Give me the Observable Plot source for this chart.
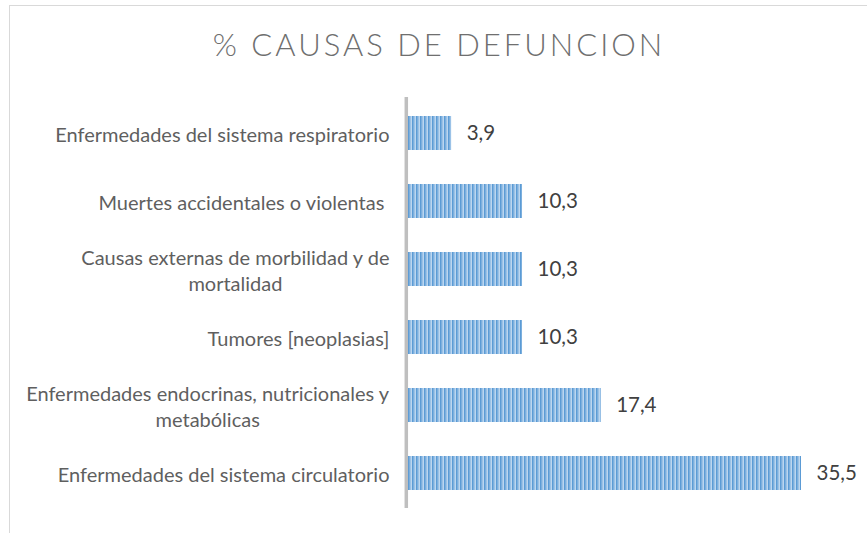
<!DOCTYPE html>
<html>
<head>
<meta charset="utf-8">
<script src="https://cdn.jsdelivr.net/npm/d3@7"></script>
<script src="https://cdn.jsdelivr.net/npm/@observablehq/plot@0.6"></script>
<style>
  html, body { margin: 0; padding: 0; background: #fff; }
  #wrap { position: relative; width: 867px; height: 533px; overflow: hidden; }
  #frame { position: absolute; left: 9px; top: 5px; width: 900px; height: 600px;
           border-top: 1.5px solid #d9d9d9; border-left: 1.5px solid #d9d9d9; }
  #title { position: absolute; left: 9px; width: 860px; top: 26px; text-align: center;
           font-family: Lato, sans-serif; font-weight: 300; font-size: 31px; letter-spacing: 3px;
           color: #6f6f6f; line-height: 36px; white-space: nowrap; }
  #chart { position: absolute; left: 0; top: 0; }
</style>
</head>
<body>
<div id="wrap">
  <div id="frame"></div>
  <div id="title">% CAUSAS DE DEFUNCION</div>
  <div id="chart"></div>
</div>
<script>
const categories = [
  "Enfermedades del sistema respiratorio",
  "Muertes accidentales o violentas",
  "Causas externas de morbilidad y de mortalidad",
  "Tumores [neoplasias]",
  "Enfermedades endocrinas, nutricionales y metabólicas",
  "Enfermedades del sistema circulatorio"
];
const tickLabels = [
  "Enfermedades del sistema respiratorio",
  "Muertes accidentales o violentas\u00a0",
  "Causas externas de morbilidad y de\nmortalidad",
  "Tumores [neoplasias]",
  "Enfermedades endocrinas, nutricionales y\nmetabólicas",
  "Enfermedades del sistema circulatorio"
];
const values = [3.9, 10.3, 10.3, 10.3, 17.4, 35.5];

const data = categories.map((c, i) => ({cause: c, label: tickLabels[i], value: values[i]}));
const fmt = v => v.toFixed(1).replace(".", ",");

const plot = Plot.plot({
  width: 867,
  height: 533,
  marginTop: 97,
  marginBottom: 25,
  marginLeft: 408,
  marginRight: 66,
  style: {background: "transparent", overflow: "visible"},
  x: {domain: [0, 35.5], axis: null},
  y: {domain: categories, paddingInner: 0.5, paddingOuter: 0.25, axis: null},
  marks: [
    Plot.barX(data, {y: "cause", x: "value", fill: "url(#stripes)"}),
    Plot.ruleX([0], {stroke: "#bfbfbf", strokeWidth: 3.5, dx: -2.2}),
    Plot.text(data, {y: "cause", x: 0, text: "label", textAnchor: "end", dx: -19,
      fontSize: 20, lineHeight: 1.3, fill: "#5f5f5f", fontFamily: "Lato, sans-serif"}),
    Plot.text(data, {y: "cause", x: "value", text: d => fmt(d.value), textAnchor: "start", dx: 15,
      fontSize: 20.5, fill: "#404040", fontFamily: "Lato, sans-serif"})
  ]
});

// striped fill pattern definition
const ns = "http://www.w3.org/2000/svg";
const defs = document.createElementNS(ns, "defs");
defs.innerHTML = `
  <pattern id="stripes" patternUnits="userSpaceOnUse" x="0" y="0" width="4" height="10">
    <rect x="0" y="0" width="4" height="10" fill="#bcd6ef"/>
    <rect x="0" y="0" width="1.7" height="10" fill="#5b9bd5"/>
    <rect x="1.7" y="0" width="0.9" height="10" fill="#86b5e2"/>
  </pattern>`;
plot.insertBefore(defs, plot.firstChild);

document.getElementById("chart").appendChild(plot);

// center multi-line category labels within their block (as in the original)
plot.querySelectorAll("text").forEach(t => {
  const spans = t.querySelectorAll("tspan");
  if (spans.length > 1) {
    const w = t.getBBox().width;
    t.setAttribute("text-anchor", "middle");
    spans.forEach(s => s.setAttribute("x", String(-w / 2 + (+s.getAttribute("x") || 0))));
  }
});
</script>
</body>
</html>
